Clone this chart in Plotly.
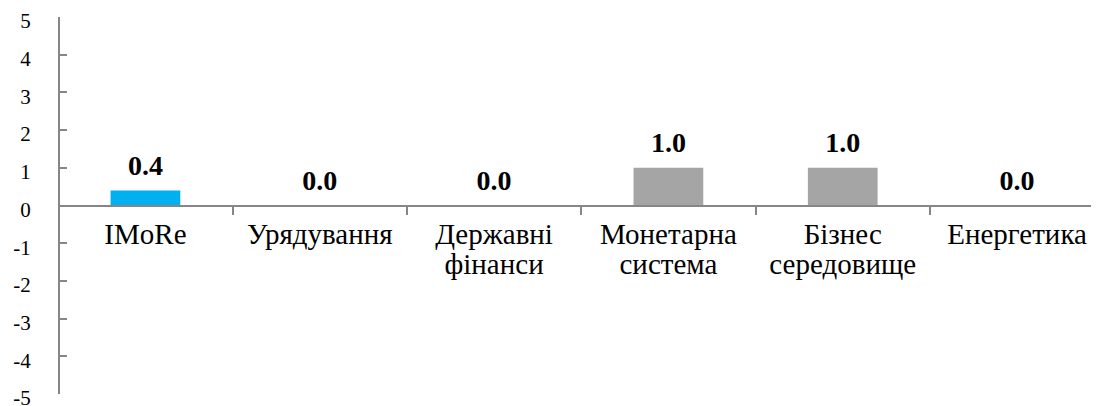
import plotly.graph_objects as go

categories = ["IMoRe", "Урядування", "Державні фінанси", "Монетарна система", "Бізнес середовище", "Енергетика"]
label_line1 = ["IMoRe", "Урядування", "Державні", "Монетарна", "Бізнес", "Енергетика"]
label_line2 = ["", "", "фінанси", "система", "середовище", ""]
values = [0.4, 0.0, 0.0, 1.0, 1.0, 0.0]
colors = ["#00B0F0", "#A5A5A5", "#A5A5A5", "#A5A5A5", "#A5A5A5", "#A5A5A5"]
y_ticks = [-5, -4, -3, -2, -1, 0, 1, 2, 3, 4, 5]

serif = "Georgia, Liberation Serif, serif"
times = "Liberation Serif, Times New Roman, serif"
axis_gray = "#868686"
x_range = [-0.49, 5.47]
positions = list(range(len(categories)))

fig = go.Figure()
fig.add_trace(go.Bar(
    x=categories, y=values,
    marker=dict(color=colors, line=dict(width=0)),
    width=0.4,
    hoverinfo="skip",
))
fig.add_trace(go.Scatter(
    x=positions, y=values, xaxis="x2",
    mode="markers+text",
    marker=dict(size=12, color="rgba(0,0,0,0)"),
    text=[f"{v:.1f}" for v in values],
    textposition="top center",
    textfont=dict(family=serif, size=28, color="#000000", weight="bold"),
    cliponaxis=False,
    hoverinfo="skip",
))

fig.update_layout(
    width=1091, height=398,
    margin=dict(l=52, r=0, t=9, b=12),
    paper_bgcolor="white", plot_bgcolor="white",
    showlegend=False,
    xaxis=dict(
        type="category",
        range=x_range,
        tickvals=categories, ticktext=label_line1,
        anchor="free", position=0.5,
        showline=True, linecolor=axis_gray, linewidth=2,
        ticks="outside", tickson="boundaries", ticklen=8, tickwidth=2, tickcolor=axis_gray,
        showgrid=False, zeroline=False, automargin=False,
        tickfont=dict(family=times, size=29, color="#000000"),
        ticklabelstandoff=3,
    ),
    xaxis2=dict(
        type="linear",
        range=x_range,
        overlaying="x",
        tickvals=positions, ticktext=label_line2,
        anchor="free", position=0.5, side="bottom",
        showline=False, ticks="", showgrid=False, zeroline=False, automargin=False,
        tickfont=dict(family=times, size=29, color="#000000"),
        ticklabelstandoff=38,
    ),
    yaxis=dict(
        range=[-5, 5], tickvals=y_ticks, ticktext=[str(t) for t in y_ticks],
        showline=True, linecolor=axis_gray, linewidth=2,
        ticks="inside", ticklen=7, tickwidth=2, tickcolor=axis_gray,
        showgrid=False, zeroline=False, automargin=False,
        tickfont=dict(family=serif, size=21, color="#000000"),
        ticklabelstandoff=23,
        ticklabeloverflow="allow",
        ticklabelshift=4,
    ),
)

fig.write_html("out.html")
